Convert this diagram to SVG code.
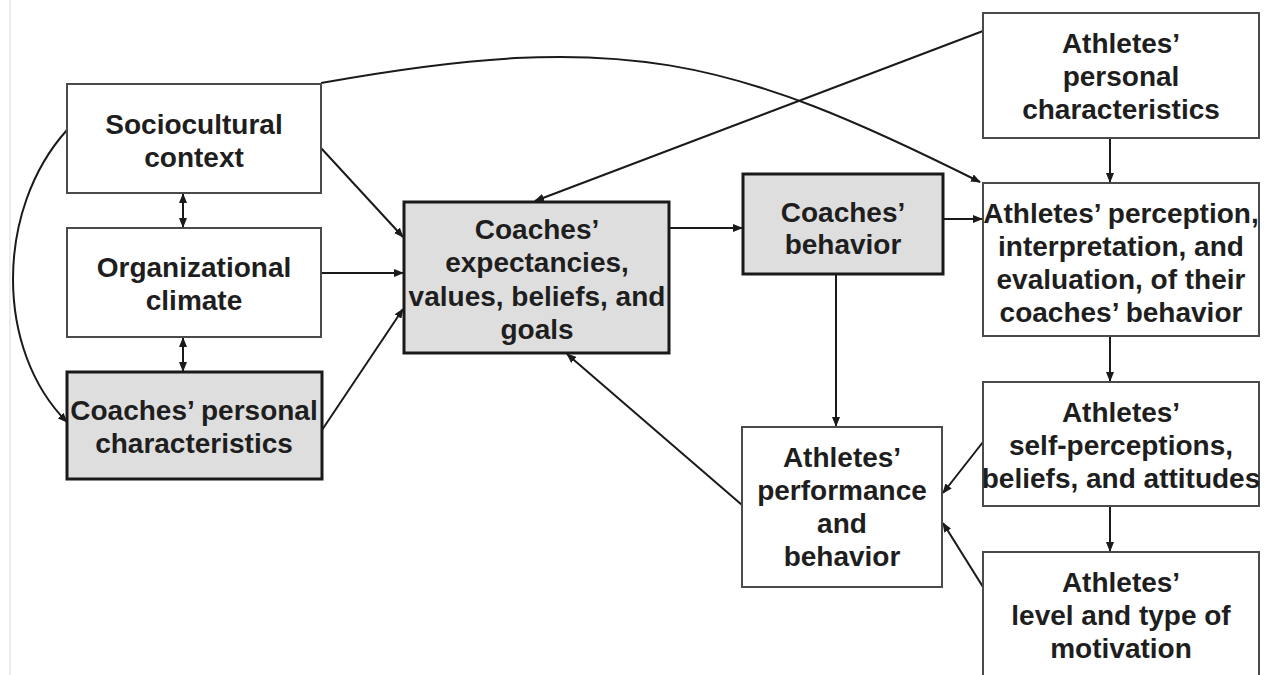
<svg xmlns="http://www.w3.org/2000/svg" width="1265" height="675" viewBox="0 0 1265 675">
<defs>
<marker id="ah" markerUnits="userSpaceOnUse" markerWidth="10" markerHeight="8" refX="9" refY="4" orient="auto-start-reverse">
<path d="M0,0 L10,4 L0,8 z" fill="#1a1a1a"/>
</marker>
<style>
.w{fill:#ffffff;stroke:#4a4a4a;stroke-width:2}
.g{fill:#dedede;stroke:#1a1a1a;stroke-width:3}
.t{font-family:"Liberation Sans",Arial,sans-serif;font-weight:bold;font-size:28px;fill:#1e1e1e;text-anchor:middle}
.c{fill:none;stroke:#1a1a1a;stroke-width:2}
</style>
</defs>
<rect x="0" y="0" width="1265" height="675" fill="#ffffff"/>
<line x1="10" y1="0" x2="10" y2="675" stroke="#ececec" stroke-width="2"/>

<g id="connectors">
<path class="c" d="M183,194 L183,227" marker-start="url(#ah)" marker-end="url(#ah)"/>
<path class="c" d="M183,338 L183,371" marker-start="url(#ah)" marker-end="url(#ah)"/>
<path class="c" d="M67,130 C-5,210 -5,350 67,422" marker-end="url(#ah)"/>
<path class="c" d="M321,148 L403,237" marker-end="url(#ah)"/>
<path class="c" d="M321,273 L403,273" marker-end="url(#ah)"/>
<path class="c" d="M322,430 L403,309" marker-end="url(#ah)"/>
<path class="c" d="M669,228 L742,228" marker-end="url(#ah)"/>
<path class="c" d="M983,31 L535,201" marker-end="url(#ah)"/>
<path class="c" d="M321,83 C621,29 730,57 980,182" marker-end="url(#ah)"/>
<path class="c" d="M943,219 L982,219" marker-end="url(#ah)"/>
<path class="c" d="M1110,138 L1110,182" marker-end="url(#ah)"/>
<path class="c" d="M836,275 L836,426" marker-end="url(#ah)"/>
<path class="c" d="M742,505 L567,354" marker-end="url(#ah)"/>
<path class="c" d="M1110,336 L1110,381" marker-end="url(#ah)"/>
<path class="c" d="M1110,506 L1110,551" marker-end="url(#ah)"/>
<path class="c" d="M983,442 L943,493" marker-end="url(#ah)"/>
<path class="c" d="M983,587 L943,523" marker-end="url(#ah)"/>
</g>

<g id="sociocultural">
<rect class="w" x="67" y="84" width="254" height="109"/>
<text class="t" x="194" y="134">Sociocultural</text>
<text class="t" x="194" y="167">context</text>
</g>

<g id="organizational">
<rect class="w" x="67" y="228" width="254" height="109"/>
<text class="t" x="194" y="277">Organizational</text>
<text class="t" x="194" y="310">climate</text>
</g>

<g id="coaches-personal">
<rect class="g" x="67" y="372" width="255" height="107"/>
<text class="t" x="194" y="420">Coaches’ personal</text>
<text class="t" x="194" y="453">characteristics</text>
</g>

<g id="coaches-expectancies">
<rect class="g" x="404" y="202" width="265" height="151"/>
<text class="t" x="537" y="239">Coaches’</text>
<text class="t" x="537" y="272">expectancies,</text>
<text class="t" x="537" y="306">values, beliefs, and</text>
<text class="t" x="537" y="339">goals</text>
</g>

<g id="coaches-behavior">
<rect class="g" x="743" y="174" width="200" height="100"/>
<text class="t" x="843" y="222">Coaches’</text>
<text class="t" x="843" y="254">behavior</text>
</g>

<g id="athletes-personal">
<rect class="w" x="983" y="13" width="276" height="125"/>
<text class="t" x="1121" y="53">Athletes’</text>
<text class="t" x="1121" y="86">personal</text>
<text class="t" x="1121" y="119">characteristics</text>
</g>

<g id="athletes-perception">
<rect class="w" x="983" y="183" width="276" height="153"/>
<text class="t" x="1121" y="223">Athletes’ perception,</text>
<text class="t" x="1121" y="256">interpretation, and</text>
<text class="t" x="1121" y="289">evaluation, of their</text>
<text class="t" x="1121" y="322">coaches’ behavior</text>
</g>

<g id="athletes-self">
<rect class="w" x="983" y="382" width="276" height="124"/>
<text class="t" x="1121" y="422">Athletes’</text>
<text class="t" x="1121" y="455">self-perceptions,</text>
<text class="t" x="1121" y="488">beliefs, and attitudes</text>
</g>

<g id="athletes-motivation">
<rect class="w" x="983" y="552" width="276" height="140"/>
<text class="t" x="1121" y="592">Athletes’</text>
<text class="t" x="1121" y="625">level and type of</text>
<text class="t" x="1121" y="658">motivation</text>
</g>

<g id="athletes-performance">
<rect class="w" x="742" y="427" width="200" height="160"/>
<text class="t" x="842" y="467">Athletes’</text>
<text class="t" x="842" y="500">performance</text>
<text class="t" x="842" y="533">and</text>
<text class="t" x="842" y="566">behavior</text>
</g>
</svg>
